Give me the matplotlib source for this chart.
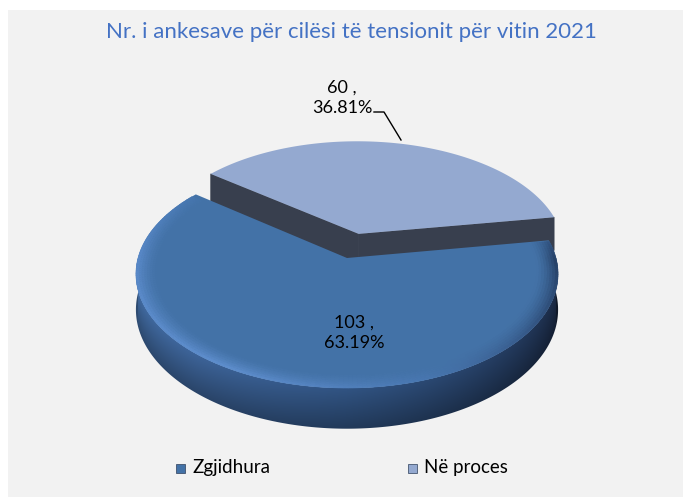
import numpy as np
import matplotlib.pyplot as plt
from matplotlib.patches import Polygon, Rectangle

# data
categories = ['Zgjidhura', 'Në proces']
values = [103, 60]
slice_colors = ['#4372a7', '#94a9d0']
title = 'Nr. i ankesave për cilësi të tensionit për vitin 2021'

plt.rcParams['font.family'] = ['Lato', 'DejaVu Sans']

W, H = 683, 497
fig = plt.figure(figsize=(W / 100, H / 100), dpi=100, facecolor='white')
ax = fig.add_axes([0, 0, 1, 1])
ax.set_xlim(0, W)
ax.set_ylim(H, 0)
ax.axis('off')

# chart area
ax.add_patch(Rectangle((8, 10), W, H, facecolor='#f2f2f2', edgecolor='none', zorder=0))

# simple perspective projection of a tilted disk
cx, cy = 347, 258
A, B, p = 209, 111.8, 0.14
D0 = 35.0


def proj(u, v, z=0.0):
    w = 1 + p * v
    return cx + A * u / w, cy - B * v / w + z * D0 / w


def rim(th, off=(0, 0), r=1.0, z=0.0):
    return proj(off[0] + r * np.cos(th), off[1] + r * np.sin(th), z)


def blend(c1, c2, t):
    c1, c2 = np.array(c1), np.array(c2)
    return tuple((c1 + (c2 - c1) * t) / 255)


total = sum(values)
start = np.deg2rad(9.3)
span_gray = 2 * np.pi * values[1] / total
g0, g1 = start, start + span_gray
b0, b1 = g1, start + 2 * np.pi

# exploded slice (Në proces)
mid = (g0 + g1) / 2
off = (0.23 * np.cos(mid), 0.23 * np.sin(mid))
wall = '#383f4e'
for th in (g0, g1):
    pts = [proj(*off), rim(th, off), rim(th, off, z=1), proj(off[0], off[1], 1)]
    ax.add_patch(Polygon(pts, closed=True, facecolor=wall, edgecolor=wall, lw=0.5, zorder=2))
arc = np.linspace(g0, g1, 200)
top = [proj(*off)] + [rim(t, off) for t in arc]
ax.add_patch(Polygon(top, closed=True, facecolor=slice_colors[1], edgecolor='none', zorder=3))

# main slice (Zgjidhura): front side wall, shaded by angle and height
front = np.linspace(np.pi, 2 * np.pi, 400)
xt = np.array([rim(t)[0] for t in front])
yt = np.array([rim(t)[1] for t in front])
yb = np.array([rim(t, z=1)[1] for t in front])
wall_pts = list(zip(xt, yt)) + list(zip(xt[::-1], yb[::-1]))
wall_patch = Polygon(wall_pts, closed=True, facecolor='none', edgecolor='none')
ax.add_patch(wall_patch)

side_deg = [180, 230, 270, 310, 340, 360]
side_rgb = np.array([(66, 108, 162), (60, 98, 150), (48, 82, 128),
                     (36, 60, 96), (28, 44, 72), (24, 36, 58)], dtype=float)
x0, x1, y0, y1 = 120, 575, 240, 450
gx, gy = np.meshgrid(np.arange(x0, x1) + 0.5, np.arange(y0, y1) + 0.5)
th_px = np.rad2deg(np.interp(gx, xt, front))
top_px = np.interp(gx, xt, yt)
bot_px = np.interp(gx, xt, yb)
frac = np.clip((gy - top_px) / np.maximum(bot_px - top_px, 1), 0, 1)
shade = 1.02 - 0.32 * frac
img = np.zeros(gx.shape + (3,))
for k in range(3):
    img[..., k] = np.interp(th_px, side_deg, side_rgb[:, k]) * shade / 255
img = np.clip(img, 0, 1)
im = ax.imshow(img, extent=(x0, x1, y1, y0), origin='upper', zorder=4, interpolation='bilinear')
im.set_clip_path(wall_patch)
ax.set_xlim(0, W)
ax.set_ylim(H, 0)

arc = np.linspace(b0, b1, 300)
top = [proj(0, 0)] + [rim(t) for t in arc]
ax.add_patch(Polygon(top, closed=True, facecolor=slice_colors[0], edgecolor='none', zorder=5))

# bevel along the rim of the top face
bev_stops = [(b0, (70, 118, 175)), (np.pi, (90, 138, 202)), (np.deg2rad(240), (96, 144, 208)),
             (np.deg2rad(290), (72, 118, 176)), (np.deg2rad(330), (48, 80, 124)),
             (2 * np.pi, (36, 60, 96)), (b1, (50, 84, 130))]
bang = np.array([s[0] for s in bev_stops])
bcol = np.array([s[1] for s in bev_stops], dtype=float)
base = (67, 114, 167)
rings = np.linspace(0.90, 1.0, 9)
ta = np.linspace(b0 + 0.03, b1 - 0.01, 200)
for r1, r2 in zip(rings[:-1], rings[1:]):
    f = ((r1 + r2) / 2 - 0.90) / 0.10
    for a1, a2 in zip(ta[:-1], ta[1:]):
        am = (a1 + a2) / 2
        ec = tuple(np.interp(am, bang, bcol[:, k]) for k in range(3))
        c = blend(base, ec, f ** 1.5)
        pts = [rim(a1, r=r1), rim(a2, r=r1), rim(a2, r=r2), rim(a1, r=r2)]
        ax.add_patch(Polygon(pts, closed=True, facecolor=c, edgecolor=c, lw=0.4, zorder=6))

# labels
pct = [v / total * 100 for v in values]
ax.text(354, 333, f'{values[0]} ,\n{pct[0]:.2f}%', ha='center', va='center',
        fontsize=13, color='black', linespacing=1.3, zorder=8)
ax.text(342, 98, f'{values[1]} ,\n{pct[1]:.2f}%', ha='center', va='center',
        fontsize=13, color='black', linespacing=1.3, zorder=8)
ax.plot([374, 384, 401], [112, 112, 140], color='black', lw=1.0, zorder=8)

# title
ax.text(351, 32, title, ha='center', va='center', fontsize=16, color='#4472c4')

# legend
for (x, lbl, col) in [(180, categories[0], slice_colors[0]), (412, categories[1], slice_colors[1])]:
    ax.add_patch(Rectangle((x - 4.5, 463.5), 9, 9, facecolor=col, edgecolor='#2c3e5a', lw=0.5, zorder=8))
    ax.text(x + 12, 468, lbl, ha='left', va='center', fontsize=13.5, color='black')

fig.savefig('out.png', dpi=100, facecolor=fig.get_facecolor())
